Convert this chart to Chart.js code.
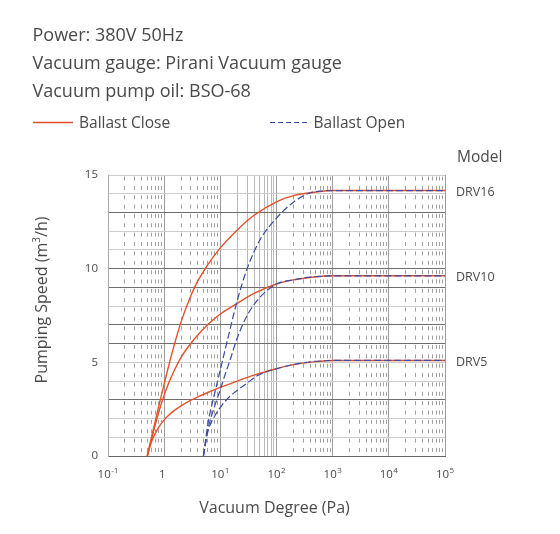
<!DOCTYPE html>
<html><head><meta charset="utf-8">
<script src="https://cdn.jsdelivr.net/npm/chart.js@4.4.1/dist/chart.umd.min.js"></script>
<style>html,body{margin:0;padding:0;background:#fff;}#wrap{width:560px;height:534px;position:relative;}</style>
</head><body><div id="wrap"><canvas id="c" width="560" height="534"></canvas></div>
<script>
// ---- text ----
const headerLines = ['Power: 380V 50Hz', 'Vacuum gauge: Pirani Vacuum gauge', 'Vacuum pump oil: BSO-68'];
const legendLabels = ['Ballast Close', 'Ballast Open'];
const modelTitle = 'Model';
const modelNames = ['DRV16', 'DRV10', 'DRV5'];
const xTitle = 'Vacuum Degree (Pa)';
const yTitleParts = ['Pumping Speed (m', '3', '/h)'];
const xExponents = [-1, 0, 1, 2, 3, 4, 5];
const yTickValues = [0, 5, 10, 15];

// ---- data: Ballast Close (solid) ----
const closePressure = [0.5, 0.6, 0.8, 1, 1.2, 1.5, 2, 3, 4, 6, 10, 20, 40, 100, 200, 500, 1000, 100000];
const closeDRV16 = [0, 1.05, 2.65, 3.85, 4.8, 5.89, 7.16, 8.57, 9.36, 10.22, 11.11, 12.07, 12.85, 13.57, 13.9, 14.09, 14.17, 14.17];
const closeDRV10 = [0, 0.95, 2.33, 3.25, 3.88, 4.54, 5.27, 6.02, 6.47, 7.02, 7.58, 8.15, 8.68, 9.18, 9.4, 9.57, 9.62, 9.62];
const closeDRV5  = [0, 0.79, 1.54, 1.93, 2.17, 2.42, 2.68, 2.98, 3.16, 3.39, 3.66, 4.0, 4.32, 4.66, 4.88, 5.04, 5.1, 5.1];

// ---- data: Ballast Open (dashed) ----
const openPressure = [5, 6, 8, 10, 12, 15, 20, 30, 50, 100, 200, 400, 700, 1000, 100000];
const openDRV16 = [0, 1.7, 3.4, 4.6, 5.6, 6.8, 8.3, 10.0, 11.5, 12.7, 13.55, 14.05, 14.15, 14.17, 14.17];
const openDRV10 = [0, 1.4, 2.7, 3.55, 4.3, 5.15, 6.3, 7.5, 8.45, 9.18, 9.4, 9.55, 9.6, 9.62, 9.62];
const openDRV5  = [0, 1.3, 2.15, 2.6, 2.9, 3.2, 3.5, 3.9, 4.35, 4.66, 4.88, 5.03, 5.08, 5.1, 5.1];

// ---- grid ----
const decades = [0.1, 1, 10, 100, 1000, 10000, 100000];
const minorMultipliers = [2, 3, 4, 5, 6, 7, 8, 9];
const fullMinorDecade = 10;
const darkGridY = [0, 3, 6, 7, 9, 10, 13];

const RED = '#e3512a', BLUE = '#3d4ba3', TXT = '#4a4a4a';
const FONT = '"Open Sans", sans-serif';
Chart.defaults.font.family = FONT;

const solidMinor = minorMultipliers.map(m => m * fullMinorDecade);
const dashedMinor = [];
decades.slice(0, -1).forEach(d => { if (d !== fullMinorDecade) minorMultipliers.forEach(m => dashedMinor.push(m * d)); });
const xGridTicks = decades.concat(solidMinor).sort((a, b) => a - b);

const pts = (xs, ys) => xs.map((x, i) => ({ x: x, y: ys[i] }));
const mk = (label, xs, ys, color, dash) => ({
  label, data: pts(xs, ys), borderColor: color, backgroundColor: color,
  borderWidth: dash ? 1.2 : 1.4, borderDash: dash || [], pointRadius: 0,
  cubicInterpolationMode: 'monotone', fill: false
});

const overlay = {
  id: 'overlay',
  afterDraw(chart) {
    const ctx = chart.ctx, xs = chart.scales.x, ys = chart.scales.y;
    ctx.save();
    ctx.fillStyle = TXT;
    ctx.textAlign = 'left'; ctx.textBaseline = 'alphabetic';
    ctx.font = '18px ' + FONT;
    const hb = [41, 69, 96.7];
    headerLines.forEach((t, i) => ctx.fillText(t, 32.5, hb[i]));
    // legend
    ctx.lineWidth = 1.5; ctx.strokeStyle = RED; ctx.setLineDash([]);
    ctx.beginPath(); ctx.moveTo(33, 122.5); ctx.lineTo(73, 122.5); ctx.stroke();
    ctx.lineWidth = 1.2; ctx.strokeStyle = BLUE; ctx.setLineDash([5, 3]);
    ctx.beginPath(); ctx.moveTo(270, 122.5); ctx.lineTo(309, 122.5); ctx.stroke();
    ctx.setLineDash([]);
    ctx.font = '15.5px ' + FONT;
    ctx.fillText(legendLabels[0], 79, 128);
    ctx.fillText(legendLabels[1], 313.5, 128);
    // model labels
    ctx.font = '15.5px ' + FONT;
    ctx.fillText(modelTitle, 457, 162);
    ctx.font = '12.5px ' + FONT; ctx.textBaseline = 'middle';
    const ends = [closeDRV16, closeDRV10, closeDRV5].map(a => a[a.length - 1]);
    modelNames.forEach((n, i) => ctx.fillText(n, 456, ys.getPixelForValue(ends[i]) + 1.5));
    // x tick labels
    ctx.textBaseline = 'alphabetic';
    xExponents.forEach(k => {
      const px = xs.getPixelForValue(Math.pow(10, k));
      if (k === 0) {
        ctx.font = '11.5px ' + FONT; ctx.textAlign = 'center';
        ctx.fillText('1', px - 2, 477.5);
      } else {
        ctx.font = '11.5px ' + FONT; const wb = ctx.measureText('10').width;
        const es = k < 0 ? '-' + Math.abs(k) : String(k);
        ctx.font = '8px ' + FONT; const we = ctx.measureText(es).width;
        const start = px - (wb + we + 0.5) / 2;
        ctx.textAlign = 'left';
        ctx.font = '11.5px ' + FONT; ctx.fillText('10', start, 477.5);
        ctx.font = '8px ' + FONT; ctx.fillText(es, start + wb + 0.5, 473);
      }
    });
    // x title
    ctx.font = '16px ' + FONT; ctx.textAlign = 'center';
    ctx.fillText(xTitle, 274.5, 512.5);
    // y title
    ctx.translate(42.5, 300); ctx.rotate(-Math.PI / 2);
    ctx.textAlign = 'left'; ctx.textBaseline = 'middle';
    ctx.font = '16px ' + FONT; const w0 = ctx.measureText(yTitleParts[0]).width, w2 = ctx.measureText(yTitleParts[2]).width;
    ctx.font = '10px ' + FONT; const w1 = ctx.measureText(yTitleParts[1]).width;
    let sx = -(w0 + w1 + w2) / 2;
    ctx.font = '16px ' + FONT; ctx.fillText(yTitleParts[0], sx, 0); sx += w0;
    ctx.font = '10px ' + FONT; ctx.fillText(yTitleParts[1], sx, -5); sx += w1;
    ctx.font = '16px ' + FONT; ctx.fillText(yTitleParts[2], sx, 0);
    ctx.restore();
  }
};

new Chart(document.getElementById('c'), {
  type: 'line',
  data: {
    datasets: [
      mk('Ballast Open DRV16', openPressure, openDRV16, BLUE, [7, 3]),
      mk('Ballast Open DRV10', openPressure, openDRV10, BLUE, [7, 3]),
      mk('Ballast Open DRV5', openPressure, openDRV5, BLUE, [7, 3]),
      mk('Ballast Close DRV16', closePressure, closeDRV16, RED),
      mk('Ballast Close DRV10', closePressure, closeDRV10, RED),
      mk('Ballast Close DRV5', closePressure, closeDRV5, RED)
    ]
  },
  options: {
    responsive: false, animation: false, devicePixelRatio: 1,
    layout: { padding: { left: 0, right: 115, top: 175, bottom: 0 } },
    plugins: { legend: { display: false }, tooltip: { enabled: false } },
    scales: {
      x: {
        type: 'logarithmic', position: 'bottom', min: 0.1, max: 100000,
        afterBuildTicks: s => { s.ticks = xGridTicks.map(v => ({ value: v })); },
        afterFit: s => { s.height = 78; s.paddingLeft = 0; s.paddingRight = 0; },
        ticks: { display: false, autoSkip: false },
        grid: { drawTicks: false, lineWidth: 1,
          color: c => (c.tick && decades.includes(c.tick.value)) ? '#9c9c9c' : '#b8b8b8' },
        border: { display: true, color: '#666', width: 1 }
      },
      x2: {
        type: 'logarithmic', position: 'top', min: 0.1, max: 100000,
        afterBuildTicks: s => { s.ticks = dashedMinor.map(v => ({ value: v })); },
        afterFit: s => { s.height = 0; s.paddingLeft = 0; s.paddingRight = 0; },
        ticks: { display: false, autoSkip: false },
        grid: { drawTicks: false, lineWidth: 1, color: '#a0a0a0' },
        border: { display: false, dash: [4, 5.36], dashOffset: -1.5 }
      },
      y: {
        min: 0, max: 15,
        afterFit: s => { s.width = 108; s.paddingTop = 0; s.paddingBottom = 0; },
        ticks: { stepSize: 1, autoSkip: false, padding: 10, color: TXT, font: { size: 11.5 },
          callback: v => yTickValues.includes(v) ? String(v) : '' },
        grid: { drawTicks: false, lineWidth: 1,
          color: c => (c.tick && darkGridY.includes(c.tick.value)) ? '#6e6e6e' : '#cdcdcd' },
        border: { display: true, color: '#aaa', width: 1 }
      }
    }
  },
  plugins: [overlay]
});
</script></body></html>
